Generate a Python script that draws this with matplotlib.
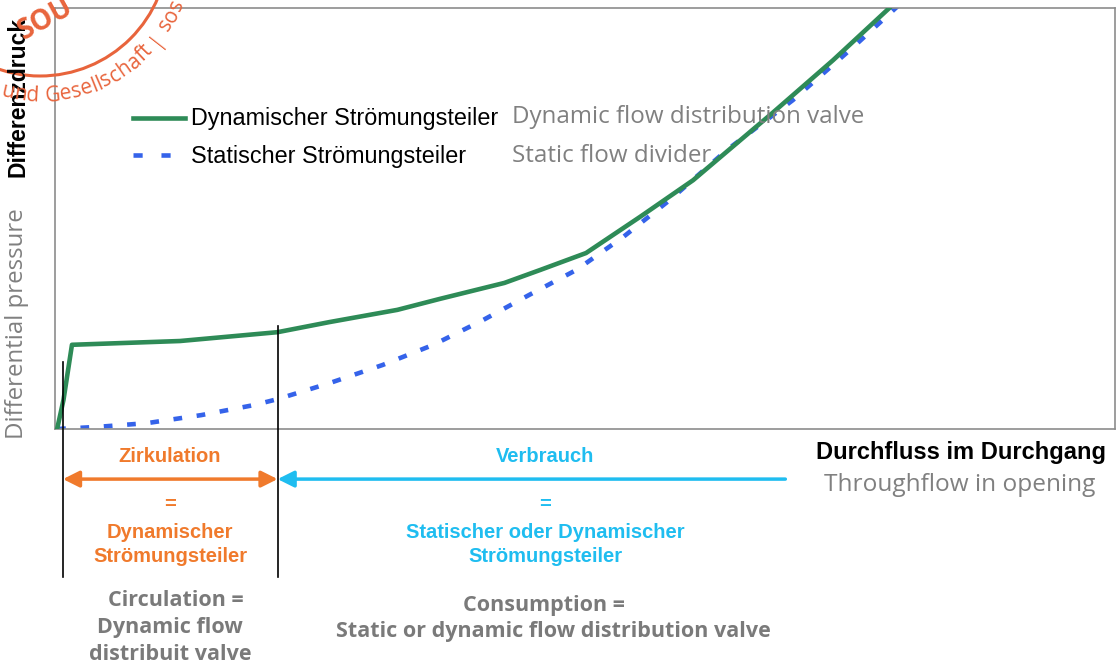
import matplotlib
matplotlib.use("Agg")
import numpy as np
import matplotlib.pyplot as plt
from matplotlib.font_manager import FontProperties
from matplotlib.textpath import TextToPath
from matplotlib.patches import Circle

# flow (% of x axis) and differential pressure (% of y axis)
flow_dyn = [0.2, 0.8, 1.6, 11.8, 21.0, 25.9, 32.3, 36.3, 42.4, 45.8, 50.1, 55.2,
            60.2, 67.7, 73.4, 78.8, 82.5]
dp_dyn = [0.0, 6.9, 20.0, 20.9, 23.0, 25.4, 28.3, 30.9, 34.7, 37.8, 41.8, 50.4,
          59.1, 75.1, 87.6, 100.2, 110.0]
flow_stat = [0.2, 4.0, 8.7, 13.8, 18.8, 21.0, 25.9, 30.9, 35.7, 40.4, 44.7, 49.2,
             53.6, 58.0, 63.4, 69.6, 75.3, 79.4, 83.0]
dp_stat = [0.0, 0.5, 1.4, 3.3, 5.7, 7.1, 10.9, 15.2, 20.0, 25.9, 31.8, 37.8,
           45.6, 54.4, 66.3, 78.1, 90.7, 100.2, 109.0]

# zone borders on the flow axis
zone_edges = [0.75, 21.0]
zone_tops = [15.9, 24.5]
consumption_end = 68.9

labels_de = ["Dynamischer Strömungsteiler", "Statischer Strömungsteiler"]
labels_en = ["Dynamic flow distribution valve", "Static flow divider"]

GREEN = "#2e8b57"
BLUE = "#3563ea"
ORANGE = "#f07a2c"
CYAN = "#1fbdf0"
GRAY = "#808080"
STAMP = "#e8643c"
DE = "Liberation Sans"
EN = "Open Sans"

W, H = 1119, 669
fig = plt.figure(figsize=(W / 100, H / 100), dpi=100)

# main plot area in pixels: x 55..1115, y 8..429
ax = fig.add_axes([55 / W, (H - 429) / H, 1060 / W, 421 / H])
ax.set_xlim(0, 100)
ax.set_ylim(0, 100)
ax.set_xticks([])
ax.set_yticks([])
for sp in ax.spines.values():
    sp.set_color("#8c8c8c")
    sp.set_linewidth(1.2)

ax.plot(flow_dyn, dp_dyn, color=GREEN, lw=3.3, solid_joinstyle="round", zorder=3)
ax.plot(flow_stat, dp_stat, color=BLUE, lw=3.3, ls=(0, (1.9, 3.2)), zorder=2)

# zone borders reaching below the axis
for x, top in zip(zone_edges, zone_tops):
    ax.plot([x, x], [top, -35.2], color="black", lw=1.2, clip_on=False, zorder=4)

arr_y = -11.9
ax.annotate("", xy=(zone_edges[0], arr_y), xytext=(zone_edges[1], arr_y),
            arrowprops=dict(arrowstyle="<|-|>,head_length=0.7,head_width=0.35",
                            color=ORANGE, lw=2.5, shrinkA=0, shrinkB=0,
                            mutation_scale=14),
            annotation_clip=False)
ax.annotate("", xy=(zone_edges[1], arr_y), xytext=(consumption_end, arr_y),
            arrowprops=dict(arrowstyle="-|>,head_length=0.7,head_width=0.35",
                            color=CYAN, lw=2.5, shrinkA=0, shrinkB=0,
                            mutation_scale=14),
            annotation_clip=False)

# overlay in pixel coordinates for the texts
ov = fig.add_axes([0, 0, 1, 1])
ov.set_xlim(0, W)
ov.set_ylim(H, 0)
ov.axis("off")

# legend keys
ov.plot([133, 185], [118, 118], color=GREEN, lw=3.3)
ov.plot([133, 171], [155, 155], color=BLUE, lw=3.3, ls=(0, (2.0, 4.1)))
ov.text(191, 119, labels_de[0], family=DE, fontsize=16.8, va="center", ha="left")
ov.text(191, 157, labels_de[1], family=DE, fontsize=16.8, va="center", ha="left")
ov.text(512, 117, labels_en[0], family=EN, fontsize=17.4, color=GRAY, va="center", ha="left")
ov.text(512, 156, labels_en[1], family=EN, fontsize=17.4, color=GRAY, va="center", ha="left")

# axis titles
ov.text(18, 97, "Differenzdruck", family=DE, fontsize=16.5, fontweight="bold",
        rotation=90, va="center", ha="center")
ov.text(17, 324, "Differential pressure", family=EN, fontsize=17.3, color=GRAY,
        rotation=90, va="center", ha="center")
ov.text(961, 453, "Durchfluss im Durchgang", family=DE, fontsize=17, fontweight="bold",
        va="center", ha="center")
ov.text(960, 485, "Throughflow in opening", family=EN, fontsize=17.6, color=GRAY,
        va="center", ha="center")

# zone captions
for y, s in [(456, "Zirkulation"), (505, "="), (533, "Dynamischer"), (557, "Strömungsteiler")]:
    ov.text(170, y, s, family=DE, fontsize=14.5, fontweight="bold", color=ORANGE,
            va="center", ha="center")
for y, s in [(456, "Verbrauch"), (505, "="), (532, "Statischer oder Dynamischer"),
             (557, "Strömungsteiler")]:
    ov.text(545, y, s, family=DE, fontsize=14.5, fontweight="bold", color=CYAN,
            va="center", ha="center")

for x, y, s in [(176, 601, "Circulation ="), (170, 628, "Dynamic flow"),
                (170, 655, "distribuit valve"), (544, 605, "Consumption ="),
                (553, 632, "Static or dynamic flow distribution valve")]:
    ov.text(x, y, s, family=EN, fontsize=15.5, fontweight="bold", color="#7a7a7a",
            va="center", ha="center")

# stamp watermark in the top left corner
cx, cy, r = 40, -52, 128
ov.add_patch(Circle((cx, cy), r, fill=False, ec=STAMP, lw=2.2))
ov.text(24, 40, "SOU", family=EN, fontsize=20, fontweight="bold", color=STAMP,
        rotation=29, rotation_mode="anchor", va="baseline", ha="left")

ring = "/ und Gesellschaft | sos"
prop = FontProperties(family=EN, size=15)
t2p = TextToPath()
R = 148
t = np.deg2rad(110.5)
for ch in ring:
    w = t2p.get_text_width_height_descent(ch, prop, ismath=False)[0] * 100 / 72
    if ch == " ":
        w = 6
    t_mid = t - (w / 2) / R
    px = cx + R * np.cos(t_mid)
    py = cy + R * np.sin(t_mid)
    ov.text(px, py, ch, fontproperties=prop, color=STAMP,
            rotation=90 - np.rad2deg(t_mid), rotation_mode="anchor",
            va="center", ha="center")
    t -= w / R

fig.savefig("out.png", dpi=100)
